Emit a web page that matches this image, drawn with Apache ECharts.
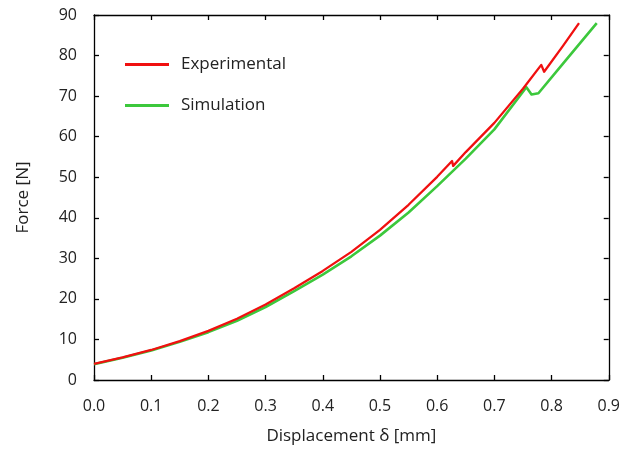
<!DOCTYPE html>
<html>
<head>
<meta charset="utf-8">
<script src="https://cdn.jsdelivr.net/npm/echarts@6/dist/echarts.min.js"></script>
<style>
  html, body { margin: 0; padding: 0; background: #fff; }
  #main { width: 623px; height: 452px; }
</style>
</head>
<body>
<div id="main"></div>
<script>
// displacement [mm] / force [N]
var expDisp  = [0, 0.05, 0.1, 0.15, 0.2, 0.25, 0.3, 0.35, 0.4, 0.45, 0.5, 0.55, 0.6, 0.626, 0.628, 0.65, 0.7, 0.75, 0.782, 0.787, 0.82, 0.848];
var expForce = [4.0, 5.6, 7.4, 9.6, 12.1, 15.1, 18.6, 22.6, 26.9, 31.6, 37.0, 43.2, 50.1, 54.0, 52.8, 56.2, 63.4, 71.8, 77.7, 76.0, 82.4, 88.0];

var simDisp  = [0, 0.05, 0.1, 0.15, 0.2, 0.25, 0.3, 0.35, 0.4, 0.45, 0.5, 0.55, 0.6, 0.65, 0.7, 0.756, 0.765, 0.777, 0.82, 0.879];
var simForce = [3.9, 5.5, 7.3, 9.4, 11.8, 14.6, 18.0, 21.9, 26.0, 30.5, 35.6, 41.3, 47.8, 54.6, 61.8, 72.2, 70.4, 70.7, 78.0, 88.0];

function pairs(xs, ys) {
  return xs.map(function (x, i) { return [x, ys[i]]; });
}

var chart = echarts.init(document.getElementById('main'));
var font = '"Open Sans", "DejaVu Sans", sans-serif';

function boxLine() {
  return { show: true, onZero: false, lineStyle: { color: '#000', width: 1.3 } };
}
function boxTick() {
  return { show: true, inside: true, length: 5, lineStyle: { color: '#000', width: 1.3 } };
}

var option = {
  animation: false,
  grid: { left: 94, right: 12, top: 15, bottom: 72 },
  legend: {
    orient: 'vertical',
    left: 120,
    top: 51,
    itemWidth: 44,
    itemHeight: 3,
    itemGap: 24,
    icon: 'rect',
    textStyle: { fontFamily: font, fontSize: 17, color: '#222', padding: [0, 0, 0, 7] },
    data: ['Experimental', 'Simulation']
  },
  xAxis: [{
    type: 'value',
    min: 0, max: 0.9, interval: 0.1,
    name: 'Displacement δ [mm]',
    nameLocation: 'middle',
    nameGap: 48,
    nameTextStyle: { fontFamily: font, fontSize: 17, color: '#222' },
    axisLine: boxLine(), axisTick: boxTick(),
    axisLabel: {
      margin: 18, fontFamily: font, fontSize: 16, color: '#222',
      formatter: function (v) { return v.toFixed(1); }
    },
    splitLine: { show: false }
  }, {
    type: 'value', position: 'top',
    min: 0, max: 0.9, interval: 0.1,
    axisLine: boxLine(), axisTick: boxTick(),
    axisLabel: { show: false }, splitLine: { show: false }
  }],
  yAxis: [{
    type: 'value',
    min: 0, max: 90, interval: 10,
    name: 'Force [N]',
    nameLocation: 'middle',
    nameGap: 62,
    nameTextStyle: { fontFamily: font, fontSize: 17, color: '#222' },
    axisLine: boxLine(), axisTick: boxTick(),
    axisLabel: { margin: 17, fontFamily: font, fontSize: 16, color: '#222' },
    splitLine: { show: false }
  }, {
    type: 'value', position: 'right',
    min: 0, max: 90, interval: 10,
    axisLine: boxLine(), axisTick: boxTick(),
    axisLabel: { show: false }, splitLine: { show: false }
  }],
  series: [{
    name: 'Simulation',
    type: 'line',
    showSymbol: false,
    color: '#3cc83c',
    lineStyle: { width: 2.6, color: '#3cc83c', join: 'round' },
    data: pairs(simDisp, simForce)
  }, {
    name: 'Experimental',
    type: 'line',
    showSymbol: false,
    color: '#f01010',
    lineStyle: { width: 2.3, color: '#f01010', join: 'round' },
    data: pairs(expDisp, expForce)
  }]
};

chart.setOption(option);
window.addEventListener('resize', chart.resize);
</script>
</body>
</html>
